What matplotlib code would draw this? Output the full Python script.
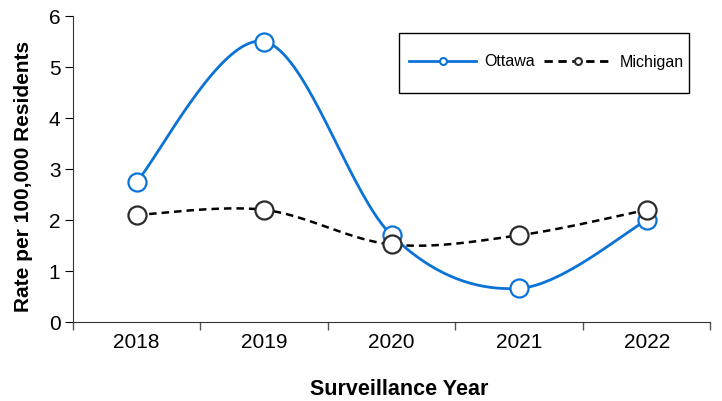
import numpy as np
import matplotlib.pyplot as plt
from matplotlib.lines import Line2D
from matplotlib.patches import Rectangle

plt.rcParams['font.family'] = ['Liberation Sans', 'DejaVu Sans']

# Data
years = ['2018', '2019', '2020', '2021', '2022']
ottawa = [2.75, 5.5, 1.7, 0.66, 2.0]
michigan = [2.1, 2.2, 1.52, 1.7, 2.2]

blue = '#0b72d6'
dark = '#2b2b2b'


def smooth(x, y, n=40):
    # Catmull-Rom style smoothing, like Excel's smoothed line
    x = np.asarray(x, float)
    y = np.asarray(y, float)
    px = np.concatenate([[x[0]], x, [x[-1]]])
    py = np.concatenate([[y[0]], y, [y[-1]]])
    xs, ys = [], []
    t = np.linspace(0, 1, n)
    for i in range(1, len(px) - 2):
        p0, p1, p2, p3 = [np.array([px[j], py[j]]) for j in range(i - 1, i + 3)]
        c1 = p1 + (p2 - p0) / 6
        c2 = p2 - (p3 - p1) / 6
        b = ((1 - t) ** 3)[:, None] * p1 + (3 * (1 - t) ** 2 * t)[:, None] * c1 \
            + (3 * (1 - t) * t ** 2)[:, None] * c2 + (t ** 3)[:, None] * p2
        xs.extend(b[:, 0])
        ys.extend(b[:, 1])
    return xs, ys


fig = plt.figure(figsize=(7.22, 4.01), dpi=100)
ax = fig.add_axes([0.101, 0.197, 0.883, 0.763])

x = np.arange(1, len(years) + 1)

sx, sy = smooth(x, ottawa)
ax.plot(sx, sy, color=blue, lw=2.0, zorder=2)
ax.plot(x, ottawa, 'o', ms=13, mfc='white', mec=blue, mew=1.6, zorder=3)

sx, sy = smooth(x, michigan)
ax.plot(sx, sy, color='black', lw=1.8, ls=(0, (3, 2)), zorder=2)
ax.plot(x, michigan, 'o', ms=13, mfc='white', mec=dark, mew=1.6, zorder=3)

ax.set_xlim(0.5, 5.5)
ax.set_ylim(0, 6)
ax.set_xticks(np.arange(0.5, 5.6, 1))
ax.set_xticklabels([])
ax.set_xticks(x, minor=True)
ax.set_xticklabels(years, minor=True, fontsize=15)
ax.tick_params(axis='x', which='minor', length=0, pad=8)
ax.tick_params(axis='x', which='major', length=6, width=1, color='#555555', direction='out')
ax.set_yticks(range(0, 7))
ax.tick_params(axis='y', labelsize=15, length=6, direction='out', pad=3)

for s in ['top', 'right']:
    ax.spines[s].set_visible(False)
ax.spines['left'].set_color('#333333')
ax.spines['bottom'].set_color('#333333')

ax.set_xlabel('Surveillance Year', fontsize=15.5, fontweight='bold', va='center')
ax.xaxis.set_label_coords(0.511, -0.222)
ax.set_ylabel('Rate per 100,000 Residents', fontsize=15, fontweight='bold', va='center')
ax.yaxis.set_label_coords(-0.077, 0.477)

# legend frame drawn separately to get the wide vertical padding
fig.patches.append(Rectangle((399 / 722, 1 - 93 / 401), 290 / 722, 60 / 401,
                             transform=fig.transFigure, fill=True, facecolor='white',
                             edgecolor='black', lw=1, zorder=5))

handles = [
    Line2D([0], [0], color=blue, lw=2, marker='o', ms=5, mfc='white', mec=blue, mew=1.5),
    Line2D([0], [0], color='black', lw=2, ls=(0, (3, 2)), marker='o', ms=5, mfc='white', mec=dark, mew=1.5),
]
leg = fig.legend(handles, ['Ottawa', 'Michigan'], ncol=2, loc='center left',
                 bbox_to_anchor=(409 / 722, 1 - 62 / 401), fontsize=11.5, frameon=False,
                 handlelength=4.2, handletextpad=0.5, columnspacing=0.6,
                 borderpad=0, borderaxespad=0)
leg.set_zorder(6)

fig.savefig('out.png', dpi=100)
